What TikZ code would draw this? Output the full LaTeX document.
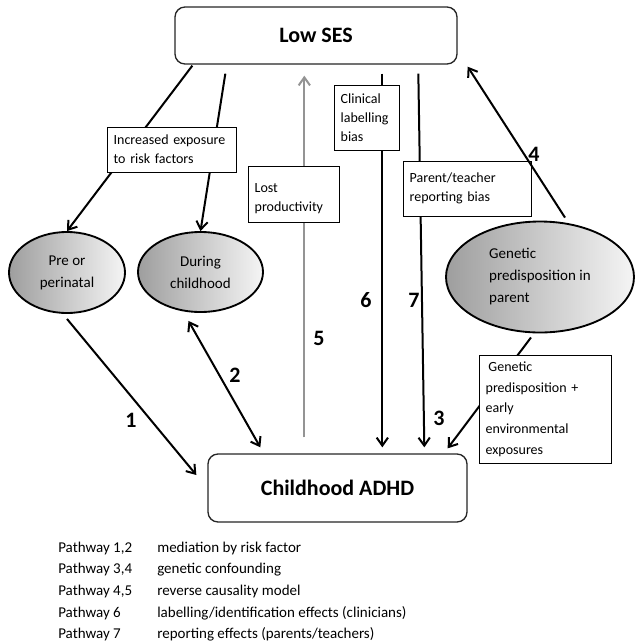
\documentclass[tikz,border=0pt]{standalone}
\usepackage{fontspec}
\setmainfont{Carlito}
\usetikzlibrary{arrows.meta}
\usetikzlibrary{shapes.geometric}
\usetikzlibrary{calc}

\tikzset{
  >={Straight Barb[length=6pt,width=8.5pt]},
  mainbox/.style={shape=rectangle, draw=black!85, line width=1pt, rounded corners=7.5pt, fill=white, font=\fontsize{16.5}{20}\selectfont\bfseries},
  riskoval/.style={shape=ellipse, draw=black, line width=1.4pt, left color=black!38, right color=black!4, inner sep=0pt, align=center, font=\fontsize{11.25}{16.5}\selectfont},
  notebox/.style={shape=rectangle, draw=black, line width=0.7pt, fill=white, align=left, inner xsep=5pt, inner ysep=0pt, font=\fontsize{10.5}{14.25}\selectfont},
  link/.style={->, line width=1.5pt, draw=black},
  graylink/.style={->, line width=1.5pt, draw=black!42},
  num/.style={inner sep=0pt, font=\fontsize{16.5}{20}\selectfont\bfseries},
  legend/.style={anchor=west, inner sep=0pt, font=\fontsize{11.25}{14}\selectfont}
}

\begin{document}
\begin{tikzpicture}[x=0.75pt,y=-0.75pt]
\useasboundingbox (0,0) rectangle (635,644);

% outcome and exposure
\node [mainbox, minimum width=211.5pt, minimum height=42.75pt] (lowses) at (316,35.5) {Low SES};
\node [mainbox, minimum width=194.25pt, minimum height=51pt] (adhd) at (337.5,488) {Childhood ADHD};

% risk factors
\node [riskoval, minimum width=87pt, minimum height=60.75pt] (pre) at (67,272.5) {Pre or\\perinatal};
\node [riskoval, minimum width=93.75pt, minimum height=60pt] (during) at (200.5,272) {During\\childhood};
\node [riskoval, align=left, minimum width=141pt, minimum height=83.25pt] (gen) at (540,277) {Genetic\\predisposition in\\parent};

% pathways
\draw [link] ($(lowses.south west)+(18,1)$) -- (pre.north);
\draw [link] ($(lowses.south west)+(51,9)$) -- (during.north);
\draw [link] ($(pre.south)+(0,5)$) -- ($(adhd.west)+(-11,-13)$);
\draw [link, <->] ($(during.south)+(-12,8)$) -- ($(adhd.north west)+(53,-6)$);
\draw [graylink] ($(adhd.north west)+(97,-16)$) -- ($(lowses.south west)+(130,11)$);
\draw [link] ($(lowses.south west)+(208,9)$) -- ($(adhd.north west)+(175,-6)$);
\draw [link] ($(lowses.south west)+(244,9)$) -- ($(adhd.north west)+(217,-6)$);
\draw [link] ($(gen.south)+(-9,4)$) -- ($(adhd.north east)+(-20,-5)$);

% labels on the pathways
\node [notebox, text width=86.75pt, minimum height=33.75pt] (incr) at (171.5,149.5) {Increased exposure\\to risk factors};
\node [notebox, text width=58.25pt, minimum height=42pt, text depth=9pt] (lost) at (293.5,194) {Lost\\productivity};
\node [notebox, text width=38.75pt, minimum height=48.75pt] (clin) at (366.5,117.5) {Clinical\\labelling\\bias};
\node [notebox, text width=86pt, minimum height=41.25pt] (rep) at (467,188.5) {Parent/teacher\\reporting bias};
\node [notebox, text width=89pt, minimum height=81pt, font=\fontsize{10.5}{15.5}\selectfont] (genbox) at (545,409) {\hspace*{0.2em}Genetic\\predisposition +\\early\\environmental\\exposures};

\draw [link] ($(gen.north)+(25,-3)$) -- ($(lowses.south east)+(10,2)$);

% pathway numbers
\node [num] (n1) at (131,420) {1};
\node [num] (n2) at (235,375) {2};
\node [num] (n3) at (439,418) {3};
\node [num] (n4) at (534,154) {4};
\node [num] (n5) at (319,338) {5};
\node [num] (n6) at (366,300) {6};
\node [num] (n7) at (414,300) {7};

% key
\node [legend] (k1) at (58,548) {Pathway 1,2};
\node [legend] (t1) at (157,548) {mediation by risk factor};
\node [legend] (k2) at (58,569.5) {Pathway 3,4};
\node [legend] (t2) at (157,569.5) {genetic confounding};
\node [legend] (k3) at (58,591.5) {Pathway 4,5};
\node [legend] (t3) at (157,591.5) {reverse causality model};
\node [legend] (k4) at (58,613) {Pathway 6};
\node [legend] (t4) at (157,613) {labelling/identification effects (clinicians)};
\node [legend] (k5) at (58,634) {Pathway 7};
\node [legend] (t5) at (157,634) {reporting effects (parents/teachers)};
\end{tikzpicture}
\end{document}
